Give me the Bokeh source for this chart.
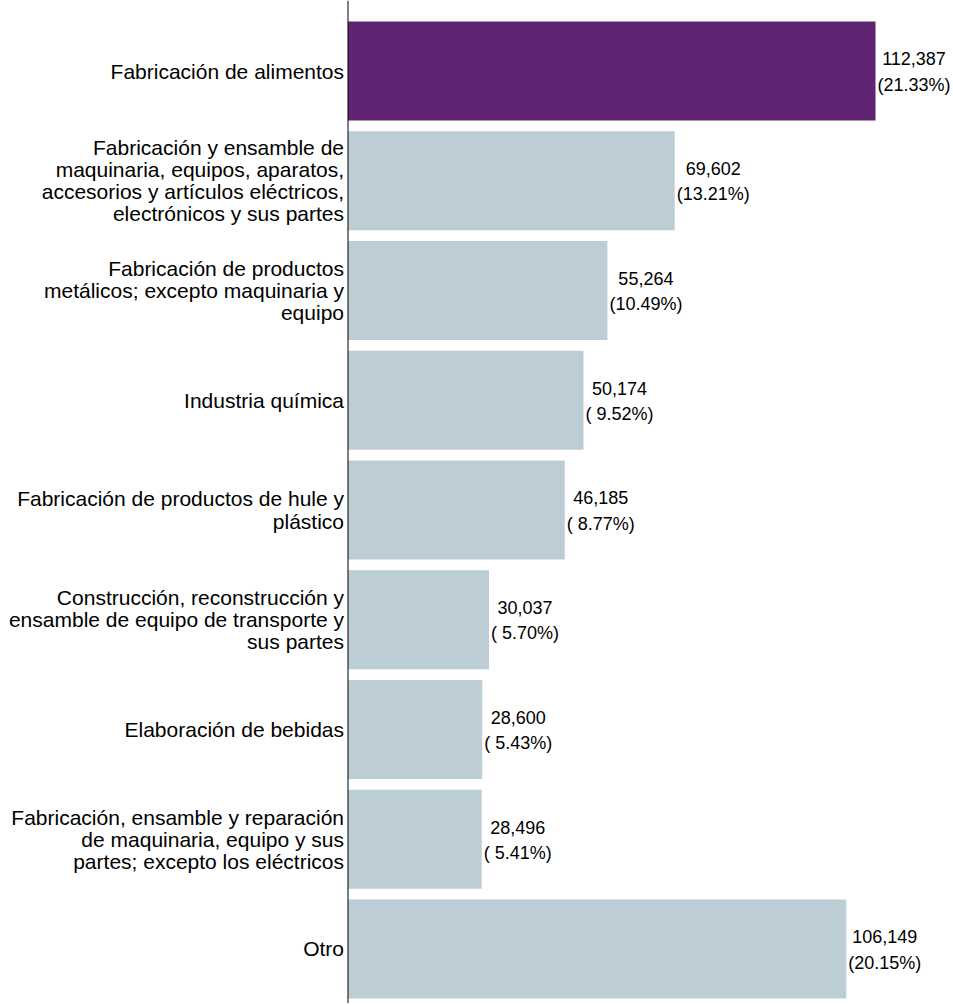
from bokeh.plotting import figure
from bokeh.models import Range1d, Span, ColumnDataSource
from bokeh.core.properties import value
from bokeh.embed import file_html
from bokeh.resources import INLINE

categories = [
    "Fabricación de alimentos",
    "Fabricación y ensamble de\nmaquinaria, equipos, aparatos,\naccesorios y artículos eléctricos,\nelectrónicos y sus partes",
    "Fabricación de productos\nmetálicos; excepto maquinaria y\nequipo",
    "Industria química",
    "Fabricación de productos de hule y\nplástico",
    "Construcción, reconstrucción y\nensamble de equipo de transporte y\nsus partes",
    "Elaboración de bebidas",
    "Fabricación, ensamble y reparación\nde maquinaria, equipo y sus\npartes; excepto los eléctricos",
    "Otro",
]
values = [112387, 69602, 55264, 50174, 46185, 30037, 28600, 28496, 106149]
pct_labels = ["(21.33%)", "(13.21%)", "(10.49%)", "( 9.52%)", "( 8.77%)",
              "( 5.70%)", "( 5.43%)", "( 5.41%)", "(20.15%)"]

PURPLE = "#5F2472"
GRAY = "#BDCDD5"

pos = list(range(len(categories)))
colors = [PURPLE] + [GRAY] * (len(categories) - 1)
src = ColumnDataSource(dict(
    y=pos, v=values, cat=categories, color=colors,
    lab=[f"{v:,}\n{pc}" for v, pc in zip(values, pct_labels)],
))

p = figure(width=953, height=1003, output_backend="svg", toolbar_location=None,
           x_range=Range1d(-74037, 129005), y_range=Range1d(8.4966, -0.6424),
           x_axis_type=None, y_axis_type=None, min_border=0)
p.outline_line_color = None
p.xgrid.visible = False
p.ygrid.visible = False

p.hbar(y="y", left=0, right="v", height=0.9, fill_color="color",
       line_color=None, source=src)

p.add_layout(Span(location=0, dimension="height", line_color="black", line_width=1))

font = value("Liberation Sans")
p.text(x=0, y="y", text="cat", source=src, x_offset=-4, text_align="right",
       text_baseline="middle", text_font=font, text_font_size="21px",
       text_line_height=0.96, text_color="black")
p.text(x="v", y="y", text="lab", source=src, x_offset=2, y_offset=1,
       anchor="center_left", text_align="center", text_baseline="middle",
       text_font=font, text_font_size="18px", text_line_height=1.26,
       text_color="black")

open("out.html", "w").write(file_html(p, INLINE))
